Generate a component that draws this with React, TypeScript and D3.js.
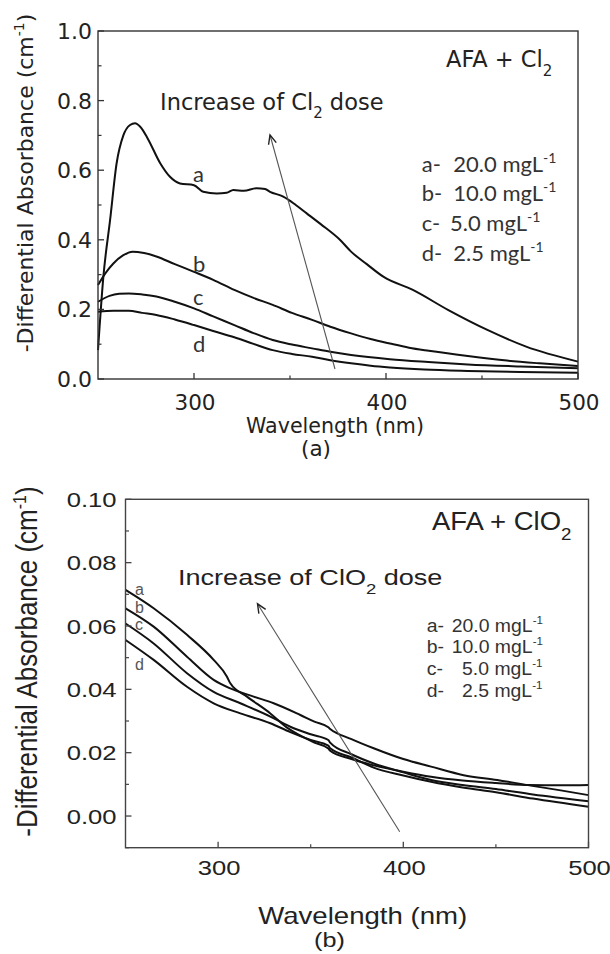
import * as d3 from "d3";

// wavelength (nm), -differential absorbance (cm-1)
const cl2A: [number, number][] = [
  [250, 0.083], [252.8, 0.294], [256.3, 0.457], [259.7, 0.62], [263.2, 0.7], [266.7, 0.73],
  [269.3, 0.735], [272, 0.725], [276, 0.69], [282.4, 0.62], [287.5, 0.581], [292.7, 0.562],
  [300, 0.557], [304.8, 0.538], [311.8, 0.533], [317, 0.535], [320.5, 0.543], [326, 0.541],
  [332.6, 0.548], [337, 0.546], [339.6, 0.538], [346.5, 0.524], [353, 0.5], [358.7, 0.476],
  [366, 0.445], [376, 0.4], [381.8, 0.366], [390, 0.33], [398.6, 0.294], [414, 0.256],
  [432.5, 0.198], [452.8, 0.141], [473, 0.093], [500, 0.05]
];
const cl2B: [number, number][] = [
  [250, 0.27], [254, 0.305], [258, 0.332], [263, 0.355], [268, 0.366], [274, 0.362],
  [280.4, 0.352], [290, 0.33], [300, 0.308], [310, 0.285], [321, 0.256], [331, 0.233],
  [341, 0.213], [351, 0.19], [361.5, 0.17], [371, 0.15], [381.8, 0.131], [392, 0.115],
  [402, 0.102], [412, 0.09], [422.3, 0.081], [442.6, 0.066], [463, 0.053], [480, 0.045], [500, 0.037]
];
const cl2C: [number, number][] = [
  [250, 0.222], [256, 0.239], [261, 0.245], [266, 0.246], [273, 0.243], [280.4, 0.237],
  [290, 0.222], [300, 0.203], [310, 0.18], [321, 0.155], [331, 0.132], [341, 0.112],
  [351, 0.099], [361.5, 0.088], [371, 0.078], [381.8, 0.069], [402, 0.057], [422, 0.049],
  [442.6, 0.042], [470, 0.036], [500, 0.031]
];
const cl2D: [number, number][] = [
  [250, 0.193], [258, 0.196], [266, 0.196], [273, 0.19], [280.4, 0.184], [290, 0.171],
  [300, 0.155], [310, 0.138], [321, 0.12], [331, 0.101], [341, 0.083], [351, 0.072],
  [361.5, 0.064], [371, 0.054], [381.8, 0.045], [392, 0.038], [402, 0.033], [420, 0.027],
  [442.6, 0.023], [470, 0.02], [500, 0.018]
];

const clo2A: [number, number][] = [
  [250, 0.0714], [265.2, 0.0656], [283.2, 0.0572], [297.6, 0.0493], [304.8, 0.044],
  [306.6, 0.0419], [315.6, 0.0377], [328.2, 0.0324], [337, 0.028], [345, 0.0252],
  [352, 0.0232], [359.5, 0.0213], [360.5, 0.0206], [372, 0.018], [384, 0.016], [400, 0.014],
  [415, 0.0124], [432, 0.0112], [450, 0.0104], [468, 0.0098], [485, 0.0097], [500, 0.0098]
];
const clo2B: [number, number][] = [
  [250, 0.0656], [265.2, 0.0598], [283.2, 0.0503], [297.6, 0.043], [306.6, 0.0403],
  [319.2, 0.0377], [330, 0.0356], [344.4, 0.0319], [352, 0.0298], [359.5, 0.028],
  [360.5, 0.0275], [372, 0.0243], [384, 0.0214], [400, 0.018], [415, 0.0156],
  [432.6, 0.0129], [450.7, 0.0114], [468.8, 0.0096], [485, 0.0081], [500, 0.0066]
];
const clo2C: [number, number][] = [
  [250, 0.0608], [265.2, 0.0545], [283.2, 0.0451], [297.6, 0.0392], [312, 0.0356],
  [328.2, 0.0314], [339, 0.0282], [350, 0.0258], [359.5, 0.024], [360.5, 0.0232],
  [372, 0.0195], [384, 0.0166], [400, 0.0138], [415, 0.0114], [432, 0.0098], [450, 0.0085],
  [470, 0.0068], [500, 0.0047]
];
const clo2D: [number, number][] = [
  [250, 0.0556], [265.2, 0.0493], [283.2, 0.0408], [297.6, 0.0356], [312, 0.0324],
  [328.2, 0.0293], [339, 0.0265], [350, 0.024], [359.5, 0.0222], [360.5, 0.0214],
  [372, 0.0185], [384, 0.0153], [400, 0.0128], [415, 0.0108], [432, 0.009], [450, 0.0075],
  [470, 0.0055], [500, 0.0029]
];

const curveLetters = ["a", "b", "c", "d"];
const doseValues = ["20.0", "10.0", "5.0", "2.5"];

const xTicks = [300, 400, 500];
const xMinorTicks = [350, 450];
const cl2YTicks = [0, 0.2, 0.4, 0.6, 0.8, 1.0];
const cl2YMinor = [0.1, 0.3, 0.5, 0.7, 0.9];
const clo2YTicks = [0, 0.02, 0.04, 0.06, 0.08, 0.1];
const clo2YMinor = [-0.01, 0.01, 0.03, 0.05, 0.07, 0.09];

const fontA = "'DejaVu Sans', Verdana, sans-serif";
const fontB = "'Liberation Sans', Arial, sans-serif";
const fontLegend = "Lato, 'Open Sans', sans-serif";

function PanelA() {
  const x = d3.scaleLinear().domain([250, 500]).range([98, 578]);
  const y = d3.scaleLinear().domain([0, 1]).range([379, 31]);
  const line = d3
    .line<[number, number]>()
    .x((d) => x(d[0]))
    .y((d) => y(d[1]))
    .curve(d3.curveMonotoneX);
  const [x0, x1] = x.range();
  const [y0, y1] = y.range();
  const labelY = [181.7, 271.7, 305, 351.7];

  return (
    <g>
      {[cl2A, cl2B, cl2C, cl2D].map((s, i) => (
        <path d={line(s) ?? ""} fill="none" key={i} stroke="#111" strokeWidth="2" />
      ))}
      <rect fill="none" height={y0 - y1} stroke="#333" strokeWidth="1.4" width={x1 - x0} x={x0} y={y1} />
      {cl2YTicks.map((t) => (
        <g key={t}>
          <line stroke="#333" strokeWidth="1.3" x1={x0} x2={x0 + 6} y1={y(t)} y2={y(t)} />
          <text dy="0.36em" fill="#222" fontFamily={fontA} fontSize="22" textAnchor="end" x={x0 - 6} y={y(t)}>
            {d3.format(".1f")(t)}
          </text>
        </g>
      ))}
      {cl2YMinor.map((t) => (
        <line key={t} stroke="#333" strokeWidth="1.2" x1={x0} x2={x0 + 3.5} y1={y(t)} y2={y(t)} />
      ))}
      {xTicks.map((t) => (
        <g key={t}>
          <line stroke="#333" strokeWidth="1.3" x1={x(t)} x2={x(t)} y1={y0} y2={y0 - 6} />
          <text fill="#222" fontFamily={fontA} fontSize="21.5" textAnchor="middle" x={x(t) + 1} y={410}>
            {t}
          </text>
        </g>
      ))}
      {xMinorTicks.map((t) => (
        <line key={t} stroke="#333" strokeWidth="1.2" x1={x(t)} x2={x(t)} y1={y0} y2={y0 - 3.5} />
      ))}
      <text fill="#222" fontFamily={fontA} fontSize="22" textAnchor="middle" transform="translate(33,183) rotate(-90)">
        -Differential Absorbance (cm<tspan dy="-9" fontSize="14">-1</tspan>
        <tspan dy="9">)</tspan>
      </text>
      <text fill="#222" fontFamily={fontA} fontSize="20.6" textAnchor="middle" x={335} y={433}>
        Wavelength (nm)
      </text>
      <text fill="#222" fontFamily={fontA} fontSize="21.5" textAnchor="middle" x={316} y={456}>
        (a)
      </text>
      <text fill="#222" fontFamily={fontA} fontSize="22.5" x={446} y={67}>
        AFA + Cl<tspan dy="9" fontSize="15">2</tspan>
      </text>
      <text fill="#222" fontFamily={fontA} fontSize="22.5" x={160} y={110}>
        Increase of Cl<tspan dy="8" fontSize="15">2</tspan>
        <tspan dy="-8"> dose</tspan>
      </text>
      {curveLetters.map((c, i) => (
        <g key={c}>
          <text fill="#333" fontFamily={fontLegend} fontSize="22" x={421.7} y={171.7 + i * 29.7}>
            {c}-
          </text>
          <text fill="#333" fontFamily={fontLegend} fontSize="22" x={i === 2 ? 450 : 453.3} y={171.7 + i * 29.7}>
            {doseValues[i]} mgL<tspan dy="-9" fontSize="14">-1</tspan>
          </text>
          <text fill="#333" fontFamily={fontLegend} fontSize="22" x={193} y={labelY[i]}>
            {c}
          </text>
        </g>
      ))}
      <line markerEnd="url(#arrowHead)" stroke="#555" strokeWidth="1.1" x1={335} x2={270} y1={369} y2={135} />
    </g>
  );
}

function PanelB() {
  const x = d3.scaleLinear().domain([250, 500]).range([125.5, 588.5]);
  const y = d3.scaleLinear().domain([-0.01, 0.1]).range([847.7, 499.3]);
  const line = d3
    .line<[number, number]>()
    .x((d) => x(d[0]))
    .y((d) => y(d[1]))
    .curve(d3.curveMonotoneX);
  const [x0, x1] = x.range();
  const [y0, y1] = y.range();
  const labelY = [595, 613, 630, 670];
  const valueX = [451.7, 451.7, 462, 462];

  return (
    <g>
      {[clo2A, clo2B, clo2C, clo2D].map((s, i) => (
        <path d={line(s) ?? ""} fill="none" key={i} stroke="#111" strokeWidth="2" />
      ))}
      <rect fill="none" height={y0 - y1} stroke="#444" strokeWidth="1.4" width={x1 - x0} x={x0} y={y1} />
      {clo2YTicks.map((t) => (
        <g key={t}>
          <line stroke="#444" strokeWidth="1.3" x1={x0} x2={x0 + 6} y1={y(t)} y2={y(t)} />
          <text
            dy="0.36em"
            fill="#222"
            fontFamily={fontB}
            fontSize="21"
            textAnchor="end"
            transform={`translate(${x0 - 9},${y(t)}) scale(1.22,1)`}
          >
            {d3.format(".2f")(t)}
          </text>
        </g>
      ))}
      {clo2YMinor.map((t) => (
        <line key={t} stroke="#444" strokeWidth="1.2" x1={x0} x2={x0 + 3.5} y1={y(t)} y2={y(t)} />
      ))}
      {xTicks.map((t) => (
        <g key={t}>
          <line stroke="#444" strokeWidth="1.3" x1={x(t)} x2={x(t)} y1={y0} y2={y0 - 6} />
          <text
            fill="#222"
            fontFamily={fontB}
            fontSize="21"
            textAnchor="middle"
            transform={`translate(${x(t) + 1},875) scale(1.22,1)`}
          >
            {t}
          </text>
        </g>
      ))}
      {xMinorTicks.map((t) => (
        <line key={t} stroke="#444" strokeWidth="1.2" x1={x(t)} x2={x(t)} y1={y0} y2={y0 - 3.5} />
      ))}
      <text
        fill="#222"
        fontFamily={fontB}
        fontSize="26"
        textAnchor="middle"
        transform="translate(37,661.5) rotate(-90) scale(1,1.12)"
      >
        -Differential Absorbance (cm<tspan dy="-10" fontSize="16">-1</tspan>
        <tspan dy="10">)</tspan>
      </text>
      <text fill="#222" fontFamily={fontB} fontSize="23" textAnchor="middle" transform="translate(362.7,924) scale(1.2,1)">
        Wavelength (nm)
      </text>
      <text fill="#222" fontFamily={fontB} fontSize="21" textAnchor="middle" transform="translate(329.5,947) scale(1.2,1)">
        (b)
      </text>
      <text fill="#222" fontFamily={fontB} fontSize="25" transform="translate(432,530) scale(1.1,1)">
        AFA + ClO<tspan dy="10" fontSize="17">2</tspan>
      </text>
      <text fill="#222" fontFamily={fontB} fontSize="22" transform="translate(178,585) scale(1.23,1)">
        Increase of ClO<tspan dy="9" fontSize="15">2</tspan>
        <tspan dy="-9"> dose</tspan>
      </text>
      {curveLetters.map((c, i) => (
        <g key={c}>
          <text fill="#333" fontFamily={fontB} fontSize="18.5" transform={`translate(426.7,${631.7 + i * 21.7}) scale(1.05,1)`}>
            {c}-
          </text>
          <text
            fill="#333"
            fontFamily={fontB}
            fontSize="18.5"
            transform={`translate(${valueX[i]},${631.7 + i * 21.7}) scale(1.05,1)`}
          >
            {doseValues[i]} mgL<tspan dy="-8" fontSize="11">-1</tspan>
          </text>
          <text fill="#555" fontFamily={fontB} fontSize="16" x={135} y={labelY[i]}>
            {c}
          </text>
        </g>
      ))}
      <line markerEnd="url(#arrowHead)" stroke="#555" strokeWidth="1.1" x1={399.7} x2={257.5} y1={831.7} y2={603.8} />
    </g>
  );
}

export default function App() {
  return (
    <svg
      height="954"
      style={{ position: "absolute", left: 0, top: 0, background: "#fff" }}
      viewBox="0 0 610 954"
      width="610"
    >
      <defs>
        <marker
          id="arrowHead"
          markerHeight="12"
          markerUnits="userSpaceOnUse"
          markerWidth="12"
          orient="auto"
          refX="10"
          refY="6"
          viewBox="0 0 12 12"
        >
          <path d="M1,2 L10,6 L1,10" fill="none" stroke="#222" strokeWidth="1.4" />
        </marker>
      </defs>
      <rect fill="#fff" height="954" width="610" />
      <PanelA />
      <PanelB />
    </svg>
  );
}
